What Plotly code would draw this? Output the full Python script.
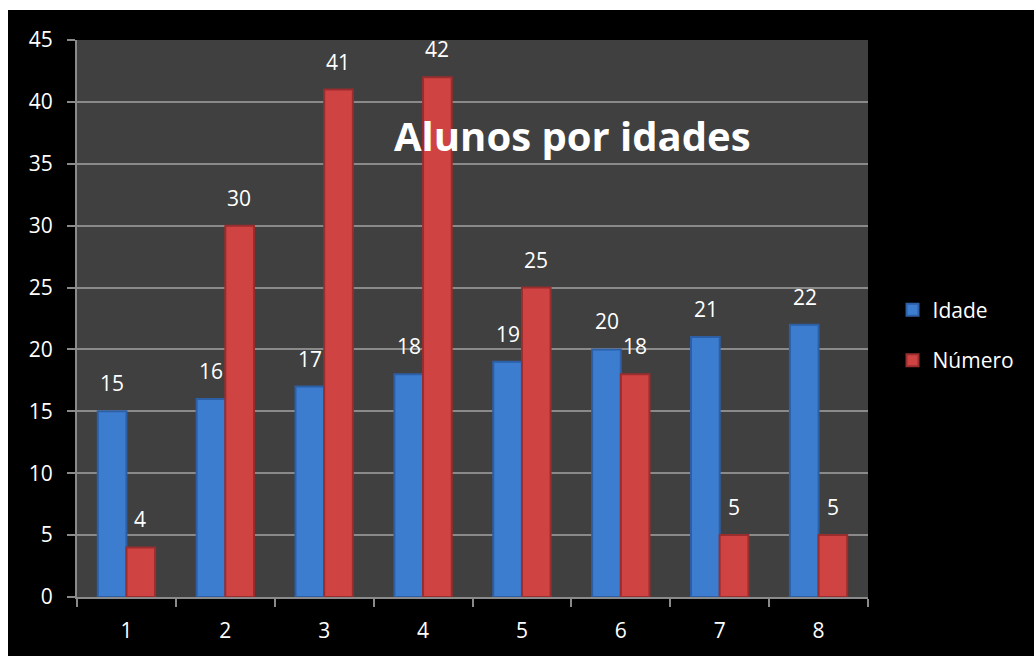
import plotly.graph_objects as go

categories = ["1", "2", "3", "4", "5", "6", "7", "8"]
idade = [15, 16, 17, 18, 19, 20, 21, 22]
numero = [4, 30, 41, 42, 25, 18, 5, 5]
series_names = ["Idade", "Número"]
title_text = "Alunos por idades"
y_ticks = [0, 5, 10, 15, 20, 25, 30, 35, 40, 45]

BLUE = "#3d7dd0"
BLUE_EDGE = "#2c5fa6"
RED = "#d04343"
RED_EDGE = "#9a2d2d"
FONT = "Open Sans"

fig = go.Figure()
fig.add_trace(go.Bar(x=categories, y=idade, name=series_names[0],
                     marker=dict(color=BLUE, line=dict(color=BLUE_EDGE, width=2)),
                     legendgroup="a", hoverinfo="y"))
fig.add_trace(go.Bar(x=categories, y=numero, name=series_names[1],
                     marker=dict(color=RED, line=dict(color=RED_EDGE, width=2)),
                     legendgroup="b", hoverinfo="y"))

annotations = []
for i, v in enumerate(idade):
    annotations.append(dict(x=i, y=v, xref="x", yref="y", text=str(v), showarrow=False,
                            xshift=-14, yshift=12, yanchor="bottom",
                            font=dict(family=FONT, size=21, color="white")))
for i, v in enumerate(numero):
    annotations.append(dict(x=i, y=v, xref="x", yref="y", text=str(v), showarrow=False,
                            xshift=14, yshift=12, yanchor="bottom",
                            font=dict(family=FONT, size=21, color="white")))
annotations.append(dict(x=0.626, y=0.828, xref="paper", yref="paper", text="<b>" + title_text + "</b>",
                        showarrow=False, xanchor="center", yanchor="middle",
                        font=dict(family=FONT, size=40, color="white")))

W, H = 1034, 656
L, R, T, B = 77, 166, 40, 59
pw, ph = W - L - R, H - T - B

def fx(x):
    return (x - L) / pw

def fy(y):
    return (H - B - y) / ph

shapes = [
    dict(type="rect", xref="paper", yref="paper", x0=fx(0), x1=fx(8), y0=fy(H), y1=fy(0),
         fillcolor="white", line=dict(width=0), layer="above"),
    dict(type="rect", xref="paper", yref="paper", x0=fx(0), x1=fx(W), y0=fy(10), y1=fy(0),
         fillcolor="white", line=dict(width=0), layer="above"),
]

fig.update_layout(
    width=W, height=H,
    margin=dict(l=L, r=R, t=T, b=B),
    paper_bgcolor="black",
    plot_bgcolor="#404040",
    barmode="group",
    bargap=0.42,
    bargroupgap=0,
    font=dict(family=FONT, size=21, color="white"),
    showlegend=True,
    legend=dict(x=1.031, xanchor="left", y=0.47, yanchor="middle", bgcolor="rgba(0,0,0,0)",
                font=dict(family=FONT, size=21, color="white"), tracegroupgap=20,
                traceorder="grouped"),
    annotations=annotations,
    shapes=shapes,
    xaxis=dict(type="category", categoryorder="array", categoryarray=categories,
               showline=True, linecolor="#8a8a8a", linewidth=2,
               ticks="outside", ticklen=8, tickcolor="#8a8a8a", tickwidth=1.5, tickson="boundaries",
               showgrid=False, tickfont=dict(family=FONT, size=21, color="white"),
               ticklabelstandoff=14),
    yaxis=dict(range=[0, 45], tickvals=y_ticks, showline=True, linecolor="#8a8a8a", linewidth=2,
               ticks="outside", ticklen=8, tickcolor="#8a8a8a", tickwidth=1.5,
               showgrid=True, gridcolor="#8a8a8a", gridwidth=1.5, zeroline=False,
               tickfont=dict(family=FONT, size=21, color="white"), ticklabelstandoff=10),
)

fig.write_html(
    "out.html",
    config={"displayModeBar": False},
    post_script=(
        "document.body.style.margin='0';"
        "document.body.style.overflow='hidden';"
        "document.body.style.background='black';"
        "document.documentElement.style.background='black';"
    ),
)
